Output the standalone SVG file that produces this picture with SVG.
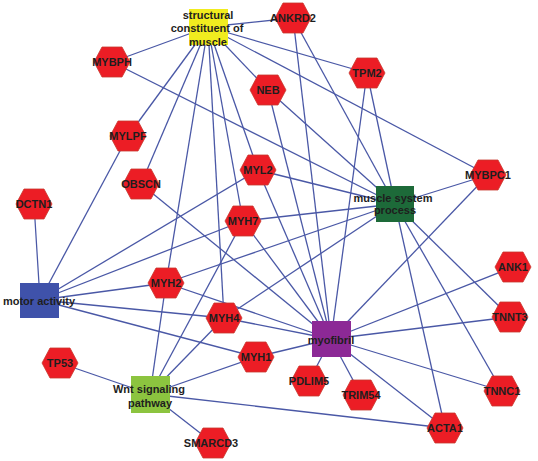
<svg xmlns="http://www.w3.org/2000/svg" xmlns:xlink="http://www.w3.org/1999/xlink" width="538" height="461" viewBox="0 0 538 461">
<defs>
<style>
.e{stroke:#4a58a6;stroke-width:1.3;fill:none}
.hex{fill:#ec1d25;stroke:#c8382f;stroke-width:0.8}
text{font-family:"Liberation Sans",Arial,sans-serif;font-size:11px;font-weight:bold;fill:#1e1e1e;text-anchor:middle}
</style>
<polygon id="hex" points="-18,0 -10,-15 10,-15 18,0 10,15 -10,15"/>
</defs>
<rect width="538" height="461" fill="#ffffff"/>
<g id="edges">
<!-- structural constituent of muscle -->
<line class="e" x1="208" y1="27" x2="293" y2="18"/>
<line class="e" x1="208" y1="27" x2="112" y2="62"/>
<line class="e" x1="208" y1="27" x2="268" y2="90"/>
<line class="e" x1="208" y1="27" x2="367" y2="73"/>
<line class="e" x1="208" y1="27" x2="488" y2="175"/>
<line class="e" x1="208" y1="27" x2="128" y2="136"/>
<line class="e" x1="208" y1="27" x2="141" y2="184"/>
<line class="e" x1="208" y1="27" x2="258" y2="170"/>
<line class="e" x1="208" y1="27" x2="243" y2="221"/>
<line class="e" x1="208" y1="27" x2="166" y2="283"/>
<line class="e" x1="208" y1="27" x2="224" y2="318"/>
<!-- muscle system process -->
<line class="e" x1="395" y1="204" x2="293" y2="18"/>
<line class="e" x1="395" y1="204" x2="268" y2="90"/>
<line class="e" x1="395" y1="204" x2="367" y2="73"/>
<line class="e" x1="395" y1="204" x2="112" y2="62"/>
<line class="e" x1="395" y1="204" x2="488" y2="175"/>
<line class="e" x1="395" y1="204" x2="258" y2="170"/>
<line class="e" x1="395" y1="204" x2="243" y2="221"/>
<line class="e" x1="395" y1="204" x2="166" y2="283"/>
<line class="e" x1="395" y1="204" x2="224" y2="318"/>
<line class="e" x1="395" y1="204" x2="510" y2="317"/>
<line class="e" x1="395" y1="204" x2="502" y2="391"/>
<line class="e" x1="395" y1="204" x2="445" y2="428"/>
<!-- motor activity -->
<line class="e" x1="40" y1="300" x2="34" y2="204"/>
<line class="e" x1="40" y1="300" x2="128" y2="136"/>
<line class="e" x1="40" y1="300" x2="258" y2="170"/>
<line class="e" x1="40" y1="300" x2="243" y2="221"/>
<line class="e" x1="40" y1="300" x2="166" y2="283"/>
<line class="e" x1="40" y1="300" x2="224" y2="318"/>
<line class="e" x1="40" y1="300" x2="256" y2="357"/>
<!-- Wnt signaling pathway -->
<line class="e" x1="150" y1="394" x2="60" y2="363"/>
<line class="e" x1="150" y1="394" x2="213" y2="443"/>
<line class="e" x1="150" y1="394" x2="166" y2="283"/>
<line class="e" x1="150" y1="394" x2="243" y2="221"/>
<line class="e" x1="150" y1="394" x2="224" y2="318"/>
<line class="e" x1="150" y1="394" x2="256" y2="357"/>
<line class="e" x1="150" y1="394" x2="445" y2="428"/>
<!-- myofibril -->
<line class="e" x1="331" y1="339" x2="293" y2="18"/>
<line class="e" x1="331" y1="339" x2="268" y2="90"/>
<line class="e" x1="331" y1="339" x2="367" y2="73"/>
<line class="e" x1="331" y1="339" x2="488" y2="175"/>
<line class="e" x1="331" y1="339" x2="141" y2="184"/>
<line class="e" x1="331" y1="339" x2="258" y2="170"/>
<line class="e" x1="331" y1="339" x2="243" y2="221"/>
<line class="e" x1="331" y1="339" x2="166" y2="283"/>
<line class="e" x1="331" y1="339" x2="224" y2="318"/>
<line class="e" x1="331" y1="339" x2="256" y2="357"/>
<line class="e" x1="331" y1="339" x2="513" y2="267"/>
<line class="e" x1="331" y1="339" x2="510" y2="317"/>
<line class="e" x1="331" y1="339" x2="502" y2="391"/>
<line class="e" x1="331" y1="339" x2="445" y2="428"/>
<line class="e" x1="331" y1="339" x2="309" y2="381"/>
<line class="e" x1="331" y1="339" x2="361" y2="395"/>
</g>
<g id="structural">
<rect x="189" y="9" width="39" height="36" fill="#f1ec1f"/>
<text x="208" y="19">structural</text>
<text x="207" y="32">constituent of</text>
<text x="208" y="46">muscle</text>
</g>
<g id="muscle-system-process">
<rect x="376" y="186" width="38" height="36" fill="#1d6a39"/>
<text x="393" y="202">muscle system</text>
<text x="395" y="214">process</text>
</g>
<g id="motor-activity">
<rect x="20" y="283" width="39" height="35" fill="#3f52aa"/>
<text x="39" y="305">motor activity</text>
</g>
<g id="wnt">
<rect x="131" y="376" width="39" height="37" fill="#8cc43f"/>
<text x="149" y="393">Wnt signaling</text>
<text x="150" y="407">pathway</text>
</g>
<g id="myofibril">
<rect x="312" y="321" width="39" height="36" fill="#8c2996"/>
<text x="331" y="344">myofibril</text>
</g>
<g id="ANKRD2" transform="translate(293,18)"><use xlink:href="#hex" class="hex"/><text y="4">ANKRD2</text></g>
<g id="MYBPH" transform="translate(112,62)"><use xlink:href="#hex" class="hex"/><text y="4">MYBPH</text></g>
<g id="NEB" transform="translate(268,90)"><use xlink:href="#hex" class="hex"/><text y="4">NEB</text></g>
<g id="TPM2" transform="translate(367,73)"><use xlink:href="#hex" class="hex"/><text y="4">TPM2</text></g>
<g id="MYLPF" transform="translate(128,136)"><use xlink:href="#hex" class="hex"/><text y="4">MYLPF</text></g>
<g id="OBSCN" transform="translate(141,184)"><use xlink:href="#hex" class="hex"/><text y="4">OBSCN</text></g>
<g id="DCTN1" transform="translate(34,204)"><use xlink:href="#hex" class="hex"/><text y="4">DCTN1</text></g>
<g id="MYL2" transform="translate(258,170)"><use xlink:href="#hex" class="hex"/><text y="4">MYL2</text></g>
<g id="MYH7" transform="translate(243,221)"><use xlink:href="#hex" class="hex"/><text y="4">MYH7</text></g>
<g id="MYBPC1" transform="translate(488,175)"><use xlink:href="#hex" class="hex"/><text y="4">MYBPC1</text></g>
<g id="MYH2" transform="translate(166,283)"><use xlink:href="#hex" class="hex"/><text y="4">MYH2</text></g>
<g id="MYH4" transform="translate(224,318)"><use xlink:href="#hex" class="hex"/><text y="4">MYH4</text></g>
<g id="MYH1" transform="translate(256,357)"><use xlink:href="#hex" class="hex"/><text y="4">MYH1</text></g>
<g id="TP53" transform="translate(60,363)"><use xlink:href="#hex" class="hex"/><text y="4">TP53</text></g>
<g id="SMARCD3" transform="translate(213,443)"><use xlink:href="#hex" class="hex"/><text x="-2" y="4">SMARCD3</text></g>
<g id="ANK1" transform="translate(513,267)"><use xlink:href="#hex" class="hex"/><text y="4">ANK1</text></g>
<g id="TNNT3" transform="translate(510,317)"><use xlink:href="#hex" class="hex"/><text y="4">TNNT3</text></g>
<g id="TNNC1" transform="translate(502,391)"><use xlink:href="#hex" class="hex"/><text y="4">TNNC1</text></g>
<g id="ACTA1" transform="translate(445,428)"><use xlink:href="#hex" class="hex"/><text y="4">ACTA1</text></g>
<g id="PDLIM5" transform="translate(309,381)"><use xlink:href="#hex" class="hex"/><text y="4">PDLIM5</text></g>
<g id="TRIM54" transform="translate(361,395)"><use xlink:href="#hex" class="hex"/><text y="4">TRIM54</text></g>
</svg>
